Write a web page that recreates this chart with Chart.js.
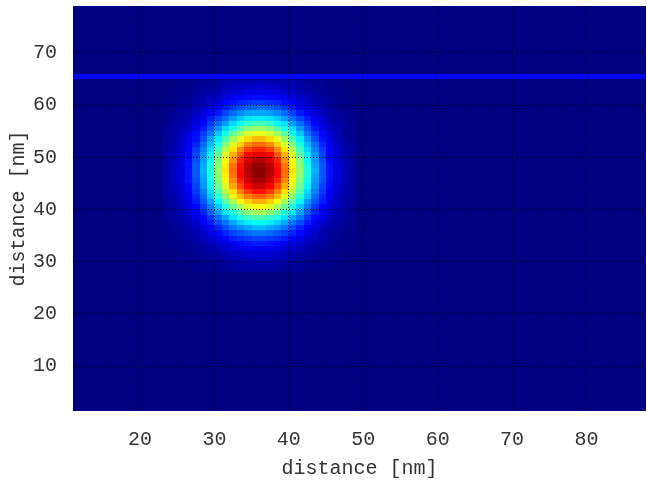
<!DOCTYPE html>
<html lang="en">
<head>
    <meta charset="UTF-8">
    <title>Intensity map</title>
    <script src="https://cdn.jsdelivr.net/npm/chart.js"></script>
    <style>
        body {
            margin: 0;
            background: #fff;
        }
        #wrap {
            width: 647px;
            height: 481px;
        }
    </style>
</head>
<body>
<div id="wrap"><canvas id="mapChart"></canvas></div>
<script>
// axis ticks (nm)
const xTicks = [20, 30, 40, 50, 60, 70, 80];
const yTicks = [10, 20, 30, 40, 50, 60, 70];

// pixel grid: left/bottom edges of the first and last 1 nm cells
const gridCols = [11, 87];
const gridRows = [1, 78];

// bright stripe row and its level (percent of max)
const lineRow = 65;
const lineLevel = 13;

// spot levels (percent of max), top row y=64 down to y=28, columns x=23..48
const blobX0 = 23;
const blobTop = 64;
const blobLevels = [
    [0,0,1,1,1,2,2,3,4,4,5,5,5, 5,5,5,4,4,3,2,2,1,1,1,0,0],
    [0,0,1,1,2,2,3,4,5,6,7,7,8, 8,7,7,6,5,4,3,2,2,1,1,0,0],
    [0,1,1,1,2,3,4,5,7,8,9,10,10, 10,10,9,8,7,5,4,3,2,1,1,1,0],
    [0,1,1,2,3,4,6,7,9,11,12,13,14, 14,13,12,11,9,7,6,4,3,2,1,1,0],
    [1,1,2,3,4,5,7,9,12,14,16,17,18, 18,17,16,14,12,9,7,5,4,3,2,1,1],
    [1,1,2,3,5,7,9,12,15,18,20,22,23, 23,22,20,18,15,12,9,7,5,3,2,1,1],
    [1,2,3,4,6,9,12,15,19,23,26,28,29, 29,28,26,23,19,15,12,9,6,4,3,2,1],
    [1,2,3,5,8,11,15,19,23,28,32,35,36, 36,35,32,28,23,19,15,11,8,5,3,2,1],
    [1,3,4,6,9,13,18,23,28,34,38,42,44, 44,42,38,34,28,23,18,13,9,6,4,3,1],
    [2,3,5,7,11,15,21,27,34,40,46,50,52, 52,50,46,40,34,27,21,15,11,7,5,3,2],
    [2,3,6,9,13,18,24,32,39,47,53,58,60, 60,58,53,47,39,32,24,18,13,9,6,3,2],
    [2,4,6,10,14,20,28,36,45,53,60,66,69, 69,66,60,53,45,36,28,20,14,10,6,4,2],
    [3,4,7,11,16,23,31,40,50,59,67,74,77, 77,74,67,59,50,40,31,23,16,11,7,4,3],
    [3,5,8,12,18,25,34,44,55,65,74,81,84, 84,81,74,65,55,44,34,25,18,12,8,5,3],
    [3,5,8,13,19,27,36,47,59,70,79,87,90, 90,87,79,70,59,47,36,27,19,13,8,5,3],
    [3,5,9,13,20,28,38,50,62,73,84,91,95, 95,91,84,73,62,50,38,28,20,13,9,5,3],
    [3,6,9,14,21,29,40,51,64,76,86,94,98, 98,94,86,76,64,51,40,29,21,14,9,6,3],
    [3,6,9,14,21,30,40,52,65,77,87,95,99, 99,95,87,77,65,52,40,30,21,14,9,6,3],
    [3,6,9,14,21,29,40,51,64,76,87,94,99, 99,94,87,76,64,51,40,29,21,14,9,6,3],
    [3,6,9,14,20,28,39,50,62,74,84,92,96, 96,92,84,74,62,50,39,28,20,14,9,6,3],
    [3,5,8,13,19,27,37,48,59,71,80,88,92, 92,88,80,71,59,48,37,27,19,13,8,5,3],
    [3,5,8,12,18,25,34,45,55,66,75,82,86, 86,82,75,66,55,45,34,25,18,12,8,5,3],
    [3,4,7,11,16,23,32,41,51,60,69,75,78, 78,75,69,60,51,41,32,23,16,11,7,4,3],
    [2,4,7,10,15,21,28,37,46,54,62,67,70, 70,67,62,54,46,37,28,21,15,10,7,4,2],
    [2,4,6,9,13,18,25,32,40,48,54,59,62, 62,59,54,48,40,32,25,18,13,9,6,4,2],
    [2,3,5,8,11,16,22,28,35,41,47,51,54, 54,51,47,41,35,28,22,16,11,8,5,3,2],
    [2,3,4,6,10,13,18,24,29,35,40,43,45, 45,43,40,35,29,24,18,13,10,6,4,3,2],
    [1,2,3,5,8,11,15,20,24,29,33,36,38, 38,36,33,29,24,20,15,11,8,5,3,2,1],
    [1,2,3,4,6,9,12,16,20,24,27,29,31, 31,29,27,24,20,16,12,9,6,4,3,2,1],
    [1,1,2,3,5,7,10,13,16,19,21,23,24, 24,23,21,19,16,13,10,7,5,3,2,1,1],
    [1,1,2,3,4,6,8,10,12,15,17,18,19, 19,18,17,15,12,10,8,6,4,3,2,1,1],
    [1,1,1,2,3,4,6,8,9,11,13,14,15, 15,14,13,11,9,8,6,4,3,2,1,1,1],
    [0,1,1,2,2,3,4,6,7,9,10,11,11, 11,11,10,9,7,6,4,3,2,2,1,1,0],
    [0,0,1,1,2,2,3,4,5,6,7,8,8, 8,8,7,6,5,4,3,2,2,1,1,0,0],
    [0,0,1,1,1,2,2,3,4,5,5,6,6, 6,6,5,5,4,3,2,2,1,1,1,0,0],
    [0,0,0,1,1,1,2,2,3,3,4,4,4, 4,4,4,3,3,2,2,1,1,1,0,0,0],
    [0,0,0,0,1,1,1,2,2,2,3,3,3, 3,3,3,2,2,2,1,1,1,0,0,0,0]
];

// jet colour map, v in 0..1
function jet(v) {
    const c = t => Math.round(255 * Math.min(1, Math.max(0, t)));
    return 'rgb(' + c(1.5 - Math.abs(4 * v - 3)) + ',' +
        c(1.5 - Math.abs(4 * v - 2)) + ',' +
        c(1.5 - Math.abs(4 * v - 1)) + ')';
}

// one entry per 1 nm cell
const cells = [];
for (let y = gridRows[0]; y <= gridRows[1]; y++) {
    for (let x = gridCols[0]; x <= gridCols[1]; x++) {
        let lvl = 0;
        const r = blobTop - y;
        const c = x - blobX0;
        if (y === lineRow) {
            lvl = lineLevel;
        } else if (r >= 0 && r < blobLevels.length && c >= 0 && c < blobLevels[r].length) {
            lvl = blobLevels[r][c];
        }
        cells.push({ x: x, y: y, v: lvl / 100 });
    }
}

// paints the cells under the grid lines
const heatmap = {
    id: 'heatmap',
    beforeDraw(chart) {
        const ctx = chart.ctx;
        const a = chart.chartArea;
        const xs = chart.scales.x;
        const ys = chart.scales.y;
        ctx.save();
        ctx.beginPath();
        ctx.rect(a.left, a.top, a.right - a.left, a.bottom - a.top);
        ctx.clip();
        for (const d of chart.data.datasets[0].data) {
            const x0 = Math.round(xs.getPixelForValue(d.x));
            const x1 = Math.round(xs.getPixelForValue(d.x + 1));
            const y0 = Math.round(ys.getPixelForValue(d.y + 1));
            const y1 = Math.round(ys.getPixelForValue(d.y));
            ctx.fillStyle = jet(d.v);
            ctx.fillRect(x0, y0, x1 - x0, y1 - y0);
        }
        ctx.restore();
    }
};

Chart.defaults.font.family = '"Liberation Mono", "DejaVu Sans Mono", monospace';
Chart.defaults.font.size = 20;
Chart.defaults.color = '#333';

const gridStyle = {
    color: 'rgba(0, 0, 0, 0.9)',
    lineWidth: 1,
    drawTicks: false
};
// in v4 the grid line dash is read from the border options
const borderStyle = { display: false, dash: [1, 2] };

new Chart(document.getElementById('mapChart'), {
    type: 'scatter',
    data: {
        datasets: [{
            data: cells,
            pointRadius: 0,
            pointHoverRadius: 0
        }]
    },
    options: {
        responsive: true,
        maintainAspectRatio: false,
        animation: false,
        layout: { padding: { top: 6, right: 1, left: 0, bottom: 0 } },
        plugins: {
            legend: { display: false },
            tooltip: { enabled: false }
        },
        scales: {
            x: {
                type: 'linear',
                min: 11,
                max: 88,
                grid: gridStyle,
                border: borderStyle,
                afterBuildTicks: s => { s.ticks = xTicks.map(v => ({ value: v })); },
                afterFit: s => { s.height = 70; s.paddingLeft = 0; s.paddingRight = 0; },
                ticks: { padding: 17, maxRotation: 0 },
                title: { display: true, text: 'distance [nm]', padding: { top: 0, bottom: 0 } }
            },
            y: {
                type: 'linear',
                min: 1.4,
                max: 79,
                grid: gridStyle,
                border: borderStyle,
                afterBuildTicks: s => { s.ticks = yTicks.map(v => ({ value: v })); },
                afterFit: s => { s.width = 73; s.paddingTop = 0; s.paddingBottom = 0; },
                ticks: { padding: 16 },
                title: { display: true, text: 'distance [nm]', padding: { top: 7, bottom: 0 } }
            }
        }
    },
    plugins: [heatmap]
});
</script>
</body>
</html>
